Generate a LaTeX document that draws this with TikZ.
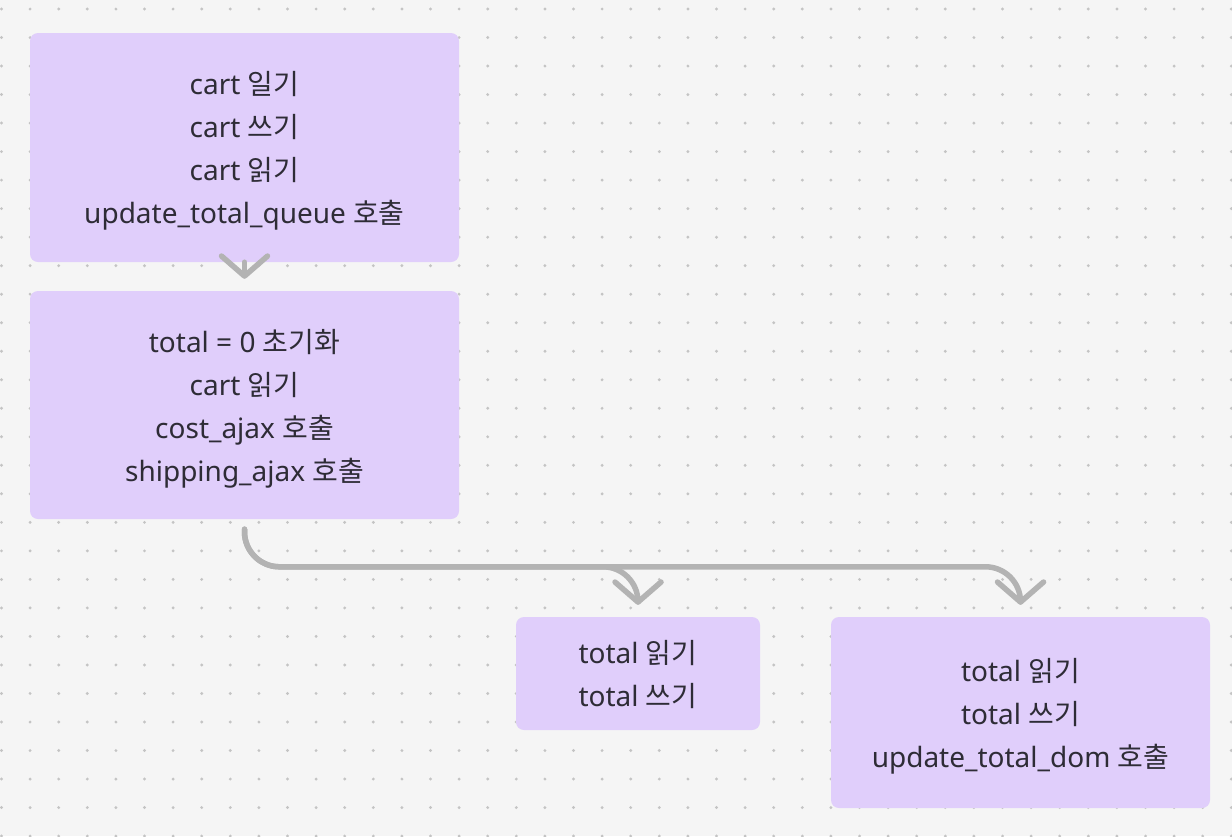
\documentclass[tikz,border=0pt]{standalone}
\usepackage{fontspec}
\setmainfont{Noto Sans}
\newfontfamily\kr{Noto Sans CJK KR}
\usetikzlibrary{arrows.meta,calc}
\definecolor{bgc}{HTML}{F5F5F5}
\definecolor{dotc}{HTML}{C4C4C4}
\definecolor{boxc}{HTML}{E0CEFB}
\definecolor{txtc}{HTML}{2E2C36}
\definecolor{linec}{HTML}{B3B3B3}
\newcommand{\K}[1]{{\kr #1}}
\tikzset{
  box/.style={fill=boxc, rounded corners=8pt, inner sep=0pt, align=center,
    text=txtc, font=\fontsize{28}{43}\selectfont},
  conn/.style={draw=linec, line width=5.5pt, line cap=round, line join=round,
    -{Straight Barb[length=20pt,width=46pt,round]}},
}
\begin{document}
\begin{tikzpicture}[x=1pt,y=-1pt]
\fill[bgc] (0,0) rectangle (1232,836);
\useasboundingbox (0,0) rectangle (1232,836);
\foreach \i in {0,...,43}{
  \foreach \j in {0,...,29}{
    \fill[dotc] ({1.5+28.6*\i},{9+28.52*\j}) circle (1.6pt);
  }
}
\node[box, minimum width=429pt, minimum height=229pt] (b1) at (244.5,147.5)
  {cart \K{일기}\\cart \K{쓰기}\\cart \K{읽기}\\\smash{update\_total\_queue \K{호출}}};
\node[box, minimum width=429pt, minimum height=228pt] (b2) at (244.5,405)
  {total = 0 \K{초기화}\\cart \K{읽기}\\cost\_ajax \K{호출}\\\smash{shipping\_ajax \K{호출}}};
\node[box, minimum width=244pt, minimum height=113pt] (b3) at (638,673.5)
  {total \K{읽기}\\\smash{total \K{쓰기}}};
\node[box, minimum width=379pt, minimum height=191pt] (b4) at (1020.5,712.5)
  {total \K{읽기}\\total \K{쓰기}\\\smash{update\_total\_dom \K{호출}}};
\coordinate (e1) at ($(b2.north)+(0,-12)$);
\coordinate (s2) at ($(b2.south)+(0,10)$);
\coordinate (e3) at ($(b3.north)+(0,-12)$);
\coordinate (e4) at ($(b4.north)+(0,-12)$);
\draw[conn] (b1.south) -- (e1);
\draw[conn, rounded corners=35pt] (s2) |- ($(e3)+(0,-38)$) -- (e3);
\draw[conn, rounded corners=35pt] (s2) |- ($(e4)+(0,-38)$) -- (e4);
\end{tikzpicture}
\end{document}
